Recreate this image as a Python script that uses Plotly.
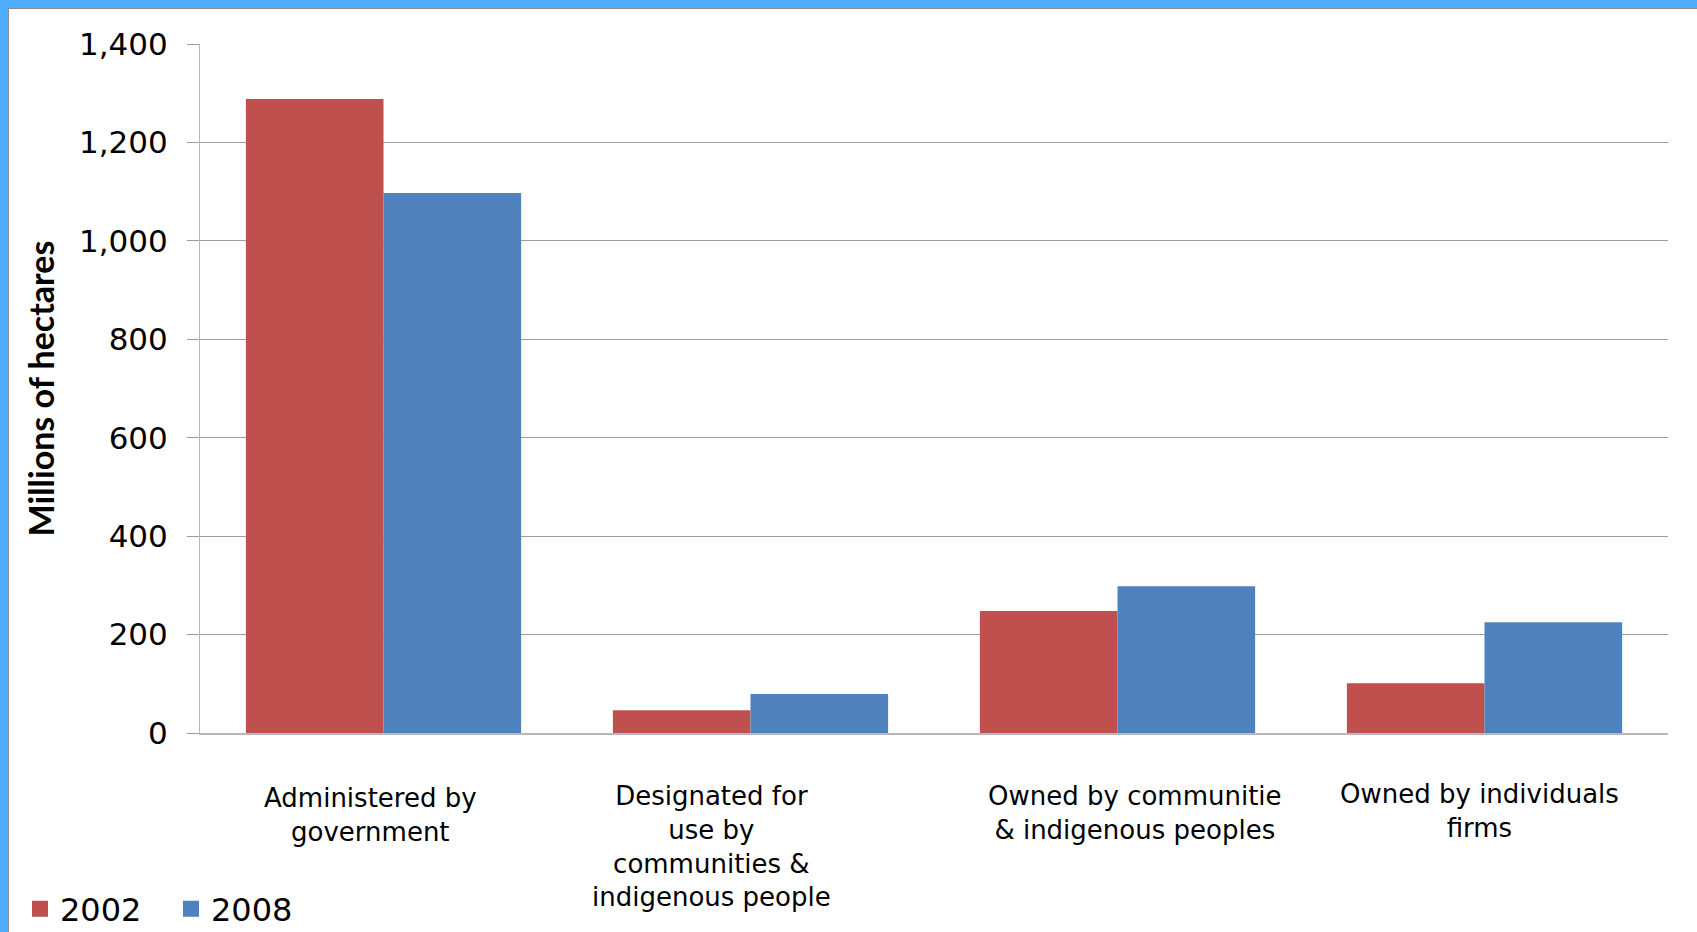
import plotly.graph_objects as go

# Forest tenure by category, millions of hectares
categories = [
    "Administered by government",
    "Designated for use by communities & indigenous people",
    "Owned by communities & indigenous peoples",
    "Owned by individuals firms",
]
category_labels = [
    "Administered by<br>government",
    "Designated for<br>use by<br>communities &<br>indigenous people",
    "Owned by communitie<br>& indigenous peoples",
    "Owned by individuals<br>firms",
]
values_2002 = [1288, 46, 248, 101]
values_2008 = [1097, 79, 298, 225]
year_labels = ["2002", "2008"]

RED = "#C0504D"
BLUE = "#4F81BD"
GRID = "#9C9C9C"

W, H = 1697, 932
ML, MR, MT, MB = 200, 29, 44, 199
PW, PH = W - ML - MR, H - MT - MB


def px_x(px):
    """Page pixel column -> paper x coordinate."""
    return (px - ML) / PW


def px_y(py):
    """Page pixel row -> paper y coordinate."""
    return (H - MB - py) / PH


fig = go.Figure()
for name, vals, color in zip(year_labels, [values_2002, values_2008], [RED, BLUE]):
    fig.add_trace(go.Bar(x=categories, y=vals, name=name, legendgroup=name,
                         showlegend=False,
                         marker=dict(color=color, line=dict(width=0))))
    # legend key: a larger square swatch than the default bar key
    fig.add_trace(go.Scatter(x=[None], y=[None], mode="markers", name=name,
                             legendgroup=name, showlegend=True,
                             marker=dict(symbol="square", size=20, color=color,
                                         line=dict(width=0))))

# category captions under each group
label_xshift = [-13, -39, 17, -5]
label_yshift = [-48, -46, -46, -44]
annotations = []
for cat, text, dx, dy in zip(categories, category_labels, label_xshift, label_yshift):
    annotations.append(dict(
        x=cat, xref="x", y=0, yref="paper", yanchor="top", xanchor="center",
        text=text, showarrow=False, align="center",
        xshift=dx, yshift=dy,
        font=dict(family="DejaVu Sans", size=26, color="#000000"),
    ))

# window frame: blue band with a thin grey rule along top and left edges
shapes = [
    dict(type="rect", xref="paper", yref="paper", layer="above",
         x0=px_x(0), x1=px_x(W), y0=px_y(8), y1=px_y(0),
         fillcolor="#4FAEFF", line=dict(width=0)),
    dict(type="rect", xref="paper", yref="paper", layer="above",
         x0=px_x(0), x1=px_x(8), y0=px_y(H), y1=px_y(0),
         fillcolor="#4FAEFF", line=dict(width=0)),
    dict(type="line", xref="paper", yref="paper", layer="above",
         x0=px_x(8), x1=px_x(W), y0=px_y(8.5), y1=px_y(8.5),
         line=dict(color="#8C8C8C", width=1)),
    dict(type="line", xref="paper", yref="paper", layer="above",
         x0=px_x(8.5), x1=px_x(8.5), y0=px_y(8), y1=px_y(H),
         line=dict(color="#8C8C8C", width=1)),
]

fig.update_layout(
    width=W, height=H,
    margin=dict(l=ML, r=MR, t=MT, b=MB, pad=0, autoexpand=False),
    paper_bgcolor="#FFFFFF", plot_bgcolor="#FFFFFF",
    barmode="group", bargap=0.25, bargroupgap=0,
    font=dict(family="DejaVu Sans", color="#000000"),
    showlegend=True,
    legend=dict(
        orientation="h", x=px_x(20), xanchor="left",
        y=px_y(909), yanchor="middle",
        font=dict(family="DejaVu Sans", size=32, color="#000000"),
        entrywidth=106, traceorder="normal", itemsizing="trace",
        bgcolor="rgba(0,0,0,0)",
    ),
    annotations=annotations,
    shapes=shapes,
)

fig.update_xaxes(
    type="category", showticklabels=False, ticks="",
    showgrid=False, showline=True, linecolor="#B8B8B8", linewidth=2,
    zeroline=False,
)
fig.update_yaxes(
    range=[0, 1400], dtick=200, tickformat=",",
    showgrid=True, gridcolor=GRID, gridwidth=1,
    showline=True, linecolor="#B8B8B8", linewidth=1,
    ticks="outside", ticklen=12, tickcolor=GRID, tickwidth=1,
    ticklabelstandoff=13,
    tickfont=dict(family="DejaVu Sans", size=31, color="#000000"),
    zeroline=False,
    title=dict(text="<b>Millions of hectares</b>", standoff=14,
               font=dict(family="Lato", size=34, color="#000000")),
)

fig.write_html("out.html")
